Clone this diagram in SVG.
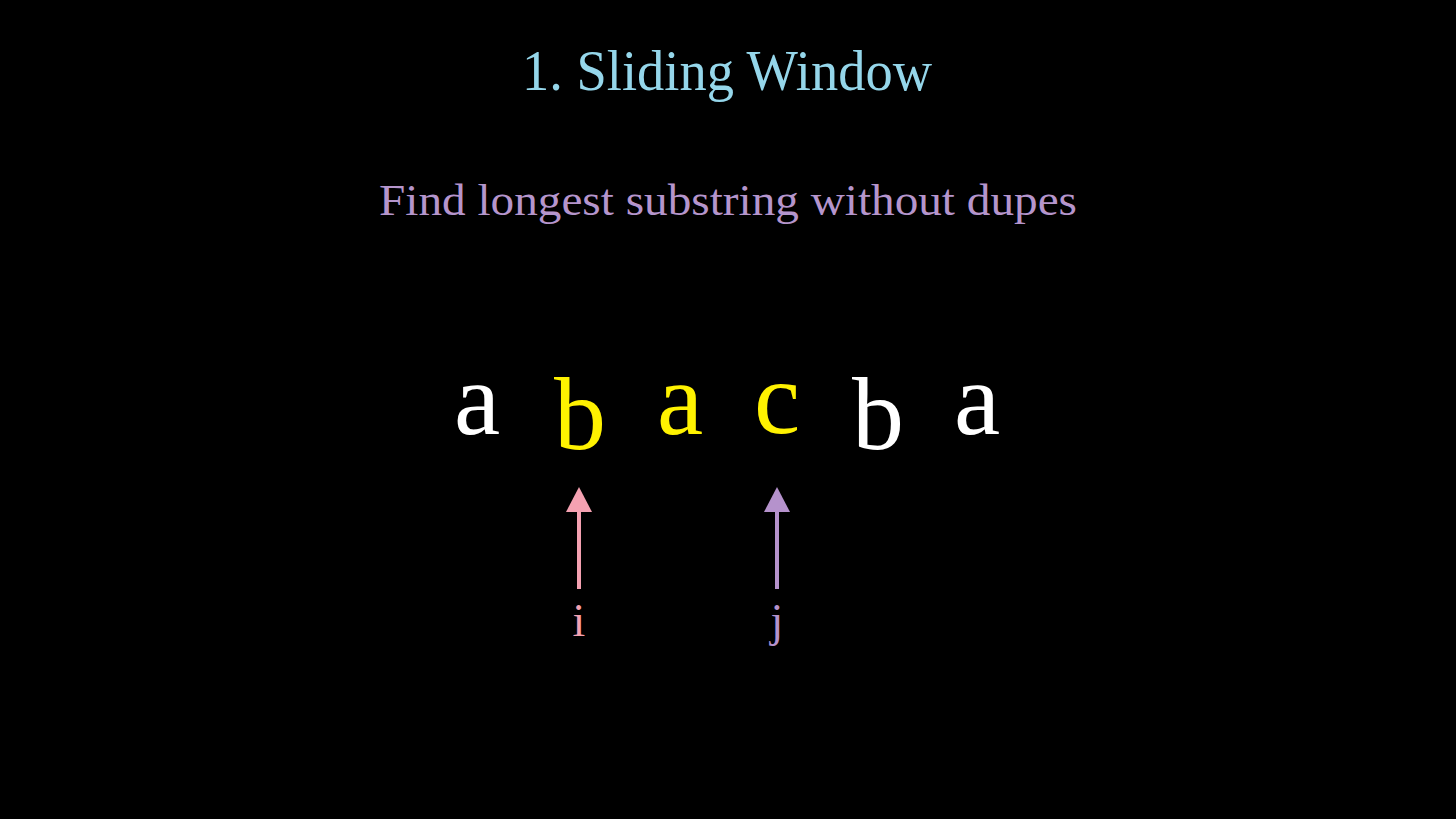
<svg xmlns="http://www.w3.org/2000/svg" width="1456" height="819" viewBox="0 0 1456 819">
<defs>
<style>
text{font-family:"Liberation Serif","DejaVu Serif",serif;text-anchor:middle}
.t{fill:#95d6ea;font-size:56px}
.s{fill:#b595cc;font-size:45px}
.ch{font-size:104px}
.w{fill:#ffffff}
.y{fill:#fff200}
.lbl{font-size:46px}
</style>
</defs>
<rect width="1456" height="819" fill="#000"/>
<g id="title"><text class="t" x="727" y="90" textLength="410" lengthAdjust="spacingAndGlyphs">1. Sliding Window</text></g>
<g id="subtitle"><text class="s" x="728" y="215" textLength="698" lengthAdjust="spacingAndGlyphs">Find longest substring without dupes</text></g>
<g id="chars">
<text id="c0" class="ch w" x="477" y="434">a</text>
<text id="c1" class="ch y" x="580" y="449">b</text>
<text id="c2" class="ch y" x="680" y="434">a</text>
<text id="c3" class="ch y" x="777" y="433">c</text>
<text id="c4" class="ch w" x="878" y="449">b</text>
<text id="c5" class="ch w" x="977" y="434">a</text>
</g>
<g id="connectors">
<line x1="579" y1="589" x2="579" y2="508" stroke="#f4a1b1" stroke-width="4"/>
<polygon points="579,487 566,512 592,512" fill="#f4a1b1"/>
<line x1="777" y1="589" x2="777" y2="508" stroke="#b592cc" stroke-width="4"/>
<polygon points="777,487 764,512 790,512" fill="#b592cc"/>
</g>
<g id="label-i"><text class="lbl" x="579" y="636" fill="#f4a1b1">i</text></g>
<g id="label-j"><text class="lbl" x="777" y="636" fill="#b592cc">j</text></g>
</svg>
